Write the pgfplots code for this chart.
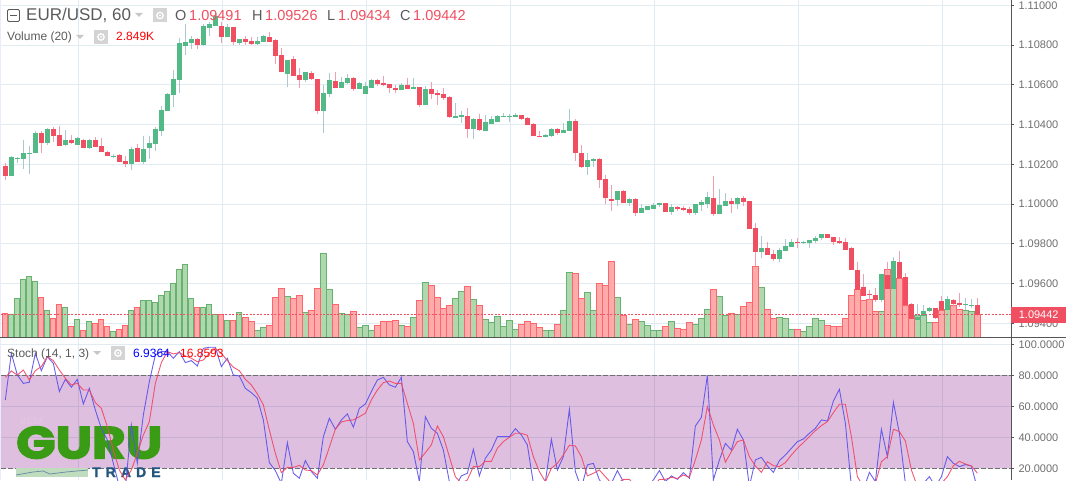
\documentclass[border=0pt]{standalone}
\usepackage{fontspec}
\setmainfont{Liberation Sans}
\newfontfamily\logofont[BoldFeatures={FakeBold=3}]{Poppins}
\newfontfamily\tradefont[LetterSpace=36,BoldFeatures={FakeBold=1.5}]{Liberation Sans}
\usepackage{pgfplots}
\pgfplotsset{compat=1.18}
\usepackage{pgfplotstable}

\definecolor{gridc}{RGB}{225,235,242}
\definecolor{upc}{RGB}{83,185,135}
\definecolor{downc}{RGB}{239,79,96}
\definecolor{upw}{RGB}{170,200,205}
\definecolor{downw}{RGB}{238,160,175}
\definecolor{volupf}{RGB}{166,212,166}
\definecolor{volupd}{RGB}{102,178,110}
\definecolor{voldnf}{RGB}{255,162,162}
\definecolor{voldnd}{RGB}{255,102,108}
\definecolor{txt}{RGB}{90,90,90}
\definecolor{ticktxt}{RGB}{110,110,110}
\definecolor{axl}{RGB}{85,85,85}
\definecolor{kline}{RGB}{90,80,235}
\definecolor{dline}{RGB}{240,70,100}
\definecolor{logog}{RGB}{58,155,20}
\definecolor{logob}{RGB}{36,86,125}

% i open high low close volume(K)
\pgfplotstableread{
i o h l c v
1 1.10141 1.10242 1.10141 1.10237 2.89
2 1.10227 1.10235 1.10205 1.10232 4.83
3 1.10227 1.10322 1.10177 1.10257 7.19
4 1.10252 1.10292 1.10151 1.10257 7.56
5 1.10257 1.10368 1.10257 1.10358 6.94
7 1.10307 1.10383 1.10297 1.10378 3.35
10 1.10297 1.10373 1.10292 1.10322 3.72
12 1.10297 1.10338 1.10297 1.10332 2.23
14 1.10282 1.10327 1.10277 1.10322 1.98
18 1.10239 1.10250 1.10232 1.10244 0.74
21 1.10202 1.10287 1.10171 1.10277 3.35
23 1.10212 1.10343 1.10202 1.10277 4.58
24 1.10282 1.10343 1.10227 1.10307 4.58
25 1.10302 1.10388 1.10267 1.10378 4.34
26 1.10368 1.10493 1.10343 1.10473 5.20
27 1.10468 1.10559 1.10468 1.10554 5.70
28 1.10549 1.10675 1.10488 1.10629 6.69
29 1.10624 1.10834 1.10559 1.10810 8.43
30 1.10795 1.10906 1.10750 1.10815 9.04
31 1.10810 1.10846 1.10780 1.10831 4.83
33 1.10800 1.10906 1.10795 1.10896 3.72
34 1.10886 1.10916 1.10846 1.10906 4.09
35 1.10896 1.10960 1.10896 1.10946 2.85
37 1.10841 1.10906 1.10841 1.10891 2.11
39 1.10810 1.10831 1.10800 1.10831 3.10
42 1.10805 1.10842 1.10800 1.10820 0.87
43 1.10815 1.10851 1.10815 1.10846 1.24
47 1.10654 1.10725 1.10589 1.10725 5.08
50 1.10624 1.10665 1.10614 1.10665 3.10
53 1.10468 1.10599 1.10358 1.10559 10.41
54 1.10554 1.10660 1.10539 1.10624 5.95
56 1.10584 1.10639 1.10584 1.10614 2.97
57 1.10609 1.10654 1.10604 1.10634 2.85
59 1.10579 1.10614 1.10579 1.10609 1.24
60 1.10553 1.10613 1.10553 1.10593 1.49
61 1.10583 1.10628 1.10583 1.10623 0.87
66 1.10573 1.10608 1.10573 1.10598 1.49
68 1.10578 1.10633 1.10578 1.10588 2.48
70 1.10497 1.10593 1.10497 1.10578 6.81
75 1.10432 1.10507 1.10432 1.10442 4.83
76 1.10437 1.10467 1.10407 1.10447 5.70
78 1.10377 1.10432 1.10326 1.10427 4.71
80 1.10366 1.10447 1.10366 1.10412 2.23
81 1.10402 1.10442 1.10402 1.10427 1.86
82 1.10412 1.10447 1.10412 1.10442 2.60
83 1.10437 1.10457 1.10437 1.10442 1.36
84 1.10437 1.10452 1.10412 1.10442 2.11
85 1.10437 1.10457 1.10437 1.10447 0.99
90 1.10336 1.10351 1.10336 1.10346 0.87
91 1.10341 1.10382 1.10336 1.10377 0.87
93 1.10356 1.10407 1.10356 1.10371 3.35
94 1.10366 1.10477 1.10366 1.10417 8.05
97 1.10185 1.10256 1.10145 1.10221 5.58
98 1.10216 1.10231 1.10185 1.10226 3.35
102 1.10019 1.10065 1.09989 1.10065 4.96
104 1.10004 1.10029 1.09989 1.10024 1.61
106 1.09954 1.09999 1.09954 1.09979 1.98
107 1.09969 1.09989 1.09969 1.09989 1.49
108 1.09974 1.10004 1.09974 1.09994 0.87
109 1.09994 1.10004 1.09984 1.10004 0.87
111 1.09959 1.09999 1.09944 1.09984 1.98
115 1.09954 1.09999 1.09944 1.09999 1.61
116 1.09994 1.10019 1.09964 1.10009 2.35
117 1.09999 1.10060 1.09979 1.10034 3.47
119 1.09949 1.10075 1.09949 1.09994 5.08
120 1.09988 1.10058 1.09988 1.10013 2.68
122 1.09998 1.10033 1.09973 1.10028 2.81
126 1.09761 1.09837 1.09731 1.09777 6.15
129 1.09726 1.09777 1.09706 1.09771 2.44
130 1.09766 1.09822 1.09766 1.09787 2.31
131 1.09782 1.09822 1.09782 1.09807 0.95
133 1.09802 1.09812 1.09797 1.09807 0.70
134 1.09802 1.09817 1.09777 1.09817 1.32
135 1.09812 1.09837 1.09802 1.09827 2.31
136 1.09827 1.09847 1.09817 1.09847 2.07
146 1.09515 1.09646 1.09505 1.09646 3.18
148 1.09575 1.09736 1.09575 1.09711 6.65
152 1.09419 1.09495 1.09419 1.09434 2.68
153 1.09439 1.09490 1.09419 1.09460 2.68
154 1.09460 1.09480 1.09455 1.09475 1.82
157 1.09465 1.09535 1.09465 1.09520 3.43
160 1.09490 1.09525 1.09465 1.09495 3.30
161 1.09485 1.09520 1.09475 1.09490 3.18
}\upcandles

\pgfplotstableread{
i o h l c v
0 1.10192 1.10205 1.10121 1.10141 2.97
6 1.10358 1.10368 1.10257 1.10307 4.96
8 1.10378 1.10388 1.10312 1.10343 2.35
9 1.10348 1.10393 1.10292 1.10292 4.09
11 1.10322 1.10348 1.10302 1.10307 1.36
13 1.10322 1.10327 1.10282 1.10282 0.87
15 1.10322 1.10338 1.10287 1.10287 1.73
16 1.10292 1.10332 1.10262 1.10262 2.23
17 1.10262 1.10267 1.10242 1.10242 1.36
19 1.10247 1.10252 1.10212 1.10212 0.99
20 1.10217 1.10242 1.10187 1.10202 1.49
22 1.10282 1.10302 1.10212 1.10212 3.72
32 1.10831 1.10836 1.10780 1.10800 3.72
36 1.10896 1.10916 1.10810 1.10841 2.85
38 1.10891 1.10891 1.10800 1.10815 2.11
40 1.10831 1.10846 1.10800 1.10815 2.48
41 1.10820 1.10841 1.10800 1.10805 1.98
44 1.10841 1.10866 1.10815 1.10815 1.49
45 1.10826 1.10831 1.10705 1.10745 4.96
46 1.10750 1.10785 1.10665 1.10665 6.07
48 1.10730 1.10745 1.10644 1.10644 4.83
49 1.10649 1.10685 1.10584 1.10624 5.20
51 1.10660 1.10670 1.10624 1.10629 3.35
52 1.10629 1.10629 1.10453 1.10468 6.07
55 1.10619 1.10665 1.10584 1.10584 4.09
58 1.10634 1.10639 1.10569 1.10579 3.22
62 1.10623 1.10628 1.10593 1.10603 1.49
63 1.10608 1.10643 1.10593 1.10598 1.98
64 1.10603 1.10603 1.10558 1.10583 1.98
65 1.10583 1.10598 1.10558 1.10573 2.11
67 1.10598 1.10633 1.10578 1.10578 1.36
69 1.10588 1.10588 1.10487 1.10497 4.58
71 1.10578 1.10613 1.10527 1.10553 6.44
72 1.10558 1.10573 1.10497 1.10548 4.96
73 1.10553 1.10583 1.10522 1.10532 3.59
74 1.10538 1.10543 1.10432 1.10437 3.96
77 1.10442 1.10482 1.10331 1.10377 6.32
79 1.10427 1.10452 1.10366 1.10371 3.96
86 1.10447 1.10447 1.10422 1.10427 1.61
87 1.10432 1.10437 1.10397 1.10397 1.98
88 1.10402 1.10407 1.10341 1.10341 1.73
89 1.10341 1.10366 1.10336 1.10336 1.24
92 1.10377 1.10382 1.10346 1.10356 1.61
95 1.10417 1.10427 1.10216 1.10256 7.93
96 1.10256 1.10296 1.10180 1.10185 4.83
99 1.10226 1.10231 1.10080 1.10120 6.69
100 1.10125 1.10145 1.09999 1.10029 6.44
101 1.10024 1.10095 1.09964 1.10014 9.42
103 1.10065 1.10070 1.10004 1.10004 2.73
105 1.10024 1.10029 1.09939 1.09954 2.23
110 1.10004 1.10004 1.09959 1.09959 1.36
112 1.09984 1.09989 1.09964 1.09974 1.12
113 1.09979 1.09989 1.09964 1.09969 0.99
114 1.09974 1.09984 1.09944 1.09954 1.86
118 1.10029 1.10140 1.09939 1.09949 5.95
121 1.10013 1.10028 1.09953 1.09998 2.93
123 1.10028 1.10043 1.09988 1.10008 3.80
124 1.10013 1.10013 1.09877 1.09877 4.30
125 1.09882 1.09907 1.09686 1.09761 8.76
127 1.09777 1.09807 1.09746 1.09746 3.43
128 1.09751 1.09771 1.09716 1.09726 2.31
132 1.09807 1.09827 1.09777 1.09802 0.95
137 1.09847 1.09847 1.09827 1.09827 1.45
138 1.09832 1.09832 1.09792 1.09807 1.32
139 1.09812 1.09832 1.09797 1.09802 1.32
140 1.09807 1.09827 1.09771 1.09771 2.31
141 1.09777 1.09782 1.09666 1.09666 5.16
142 1.09666 1.09711 1.09570 1.09570 5.91
143 1.09585 1.09646 1.09535 1.09535 4.54
144 1.09545 1.09570 1.09515 1.09540 4.67
145 1.09540 1.09580 1.09505 1.09515 3.18
147 1.09641 1.09711 1.09575 1.09575 8.38
149 1.09711 1.09766 1.09626 1.09626 7.27
150 1.09631 1.09651 1.09490 1.09490 3.96
151 1.09495 1.09500 1.09424 1.09424 2.40
155 1.09475 1.09475 1.09424 1.09429 1.82
156 1.09510 1.09535 1.09465 1.09465 3.35
158 1.09515 1.09520 1.09480 1.09495 3.92
159 1.09500 1.09550 1.09480 1.09490 3.43
162 1.09491 1.09526 1.09434 1.09442 2.85
}\downcandles

% i %K %D
\pgfplotstableread{
i k d
0 64.1 78.7
1 94.2 82.8
2 80.2 80.2
3 74.8 83.4
4 75.5 77.0
5 94.2 83.0
6 83.0 85.6
7 92.0 92.0
8 87.7 89.5
9 69.5 83.4
10 77.4 78.1
11 72.3 73.8
12 77.4 74.8
13 61.5 70.5
14 71.6 70.5
15 57.6 62.4
16 45.8 58.7
17 38.3 46.9
18 23.2 31.8
19 8.2 18.9
20 7.1 12.5
21 48.0 18.9
22 23.2 29.7
23 54.4 41.5
24 75.9 50.1
25 93.1 74.8
26 95.3 88.2
27 95.3 95.3
28 91.0 93.8
29 95.3 94.6
30 88.2 92.5
31 89.5 91.0
32 86.0 88.8
33 97.4 89.9
34 98.1 94.2
35 98.1 97.4
36 85.6 94.2
37 91.0 89.5
38 80.2 85.2
39 79.6 83.0
40 71.6 77.4
41 68.8 73.8
42 65.2 68.0
43 51.2 60.9
44 23.7 44.7
45 18.5 29.7
46 10.3 17.2
47 36.6 20.6
48 16.8 20.6
49 13.6 21.9
50 25.0 18.9
51 17.9 18.5
52 13.6 15.7
53 40.4 22.2
54 52.3 33.6
55 45.2 45.2
56 51.2 49.9
57 55.1 50.8
58 46.5 51.2
59 58.7 53.3
60 61.5 55.5
61 69.5 64.1
62 77.0 70.5
63 78.7 75.3
64 73.8 76.3
65 72.3 74.8
66 78.7 74.8
67 37.2 61.9
68 30.8 49.0
69 11.4 25.4
70 53.3 30.1
71 45.8 35.1
72 42.6 47.3
73 31.8 40.4
74 11.4 27.5
75 8.2 14.6
76 15.1 10.3
77 16.8 12.5
78 32.3 21.1
79 15.1 21.1
80 26.5 24.5
81 31.8 24.5
82 40.4 32.9
83 40.4 37.2
84 40.4 40.0
85 45.6 42.6
86 41.5 42.6
87 35.1 41.3
88 10.3 27.5
89 8.2 17.9
90 11.4 11.4
91 38.7 20.0
92 18.9 23.2
93 27.5 28.6
94 58.1 34.9
95 17.9 34.4
96 7.1 27.5
97 22.2 15.1
98 23.2 16.8
99 12.5 18.9
100 8.2 14.6
101 10.3 10.3
102 18.5 10.3
103 11.4 12.9
104 9.3 12.9
105 8.2 8.2
106 7.1 8.2
107 8.2 8.2
108 12.5 8.2
109 18.5 12.9
110 11.4 12.9
111 15.1 14.2
112 12.9 13.4
113 17.2 15.7
114 13.6 14.2
115 47.3 25.4
116 52.9 38.3
117 80.0 59.8
118 12.5 48.0
119 25.4 38.3
120 36.1 23.9
121 31.8 30.8
122 45.2 37.2
123 38.3 38.3
124 8.2 27.5
125 25.4 21.5
126 27.1 17.4
127 21.5 24.3
128 17.4 21.7
129 25.0 21.1
130 28.6 23.7
131 32.9 28.6
132 37.2 32.9
133 38.9 36.6
134 42.6 40.4
135 45.8 44.3
136 51.2 47.5
137 50.5 50.1
138 63.4 55.9
139 71.0 61.3
140 49.0 61.3
141 8.2 40.4
142 6.0 14.6
143 6.0 8.2
144 17.4 8.2
145 11.4 10.3
146 45.2 24.3
147 27.5 27.5
148 62.6 45.2
149 42.6 43.7
150 10.3 37.6
151 6.0 18.9
152 6.0 8.2
153 10.3 8.2
154 14.6 10.3
155 8.2 8.2
156 14.6 10.3
157 27.5 14.6
158 23.2 21.7
159 21.1 24.5
160 22.4 22.8
161 21.5 21.5
162 6.9364 16.8593
}\stochtable

\pgfplotsset{
  panel/.style={
    scale only axis, width=1010pt,
    xmin=-0.722, xmax=167.6,
    axis line style={draw=none},
    xtick={12.17,36.17,60.17,84.17,108.17,132.17,156.17},
    xticklabels={},
    x tick style={draw=none},
    xmajorgrids=true, ymajorgrids=true,
    grid style={line width=1pt,draw=gridc},
    ytick pos=right, yticklabel pos=right,
    tick align=outside, major tick length=3pt,
    y tick style={line width=0.8pt,draw=axl},
    yticklabel style={font=\fontsize{11}{13}\selectfont, text=ticktxt, xshift=1pt},
  },
  mainpos/.style={at={(1pt,142.7pt)}, anchor=south west, height=337.3pt},
  lowpos/.style={at={(1pt,0pt)}, anchor=south west, height=142.7pt},
  wick/.style={draw=none, mark=none, forget plot,
    error bars/.cd, y dir=both, y explicit, error mark=none,
    error bar style={draw=#1, line width=1pt}},
  body/.style={draw=none, mark=none, forget plot,
    error bars/.cd, y dir=both, y explicit, error mark=none,
    error bar style={draw=#1, line width=5pt}},
}

\newcommand{\eyeicon}[2]{% centre x, y in page points
  \fill[black!17] (#1pt-7pt,#2pt-7pt) rectangle (#1pt+7pt,#2pt+7pt);
  \draw[white,line width=1.3pt] (#1pt,#2pt) circle (3.2pt);
  \fill[white] (#1pt,#2pt) circle (1pt);}
\newcommand{\ddtri}[2]{\fill[black!22] (#1pt-4pt,#2pt+2pt) -- (#1pt+4pt,#2pt+2pt) -- (#1pt,#2pt-2pt) -- cycle;}

\begin{document}
\begin{tikzpicture}
\useasboundingbox (0,0) rectangle (1066pt,480pt);

% frame, grid and price scale
\begin{axis}[panel, mainpos,
    ymin=1.093296, ymax=1.110267,
    ytick={1.094,1.096,1.098,1.100,1.102,1.104,1.106,1.108,1.110},
    yticklabels={1.09400,1.09600,1.09800,1.10000,1.10200,1.10400,1.10600,1.10800,1.11000},
]
\end{axis}

% volume
\begin{axis}[mainpos, scale only axis, width=1010pt, hide axis,
    xmin=-0.722, xmax=167.6, ymin=0, ymax=41.79,
    ybar, bar width=5.2pt, bar shift=0pt,
]
\addplot[fill=volupf, draw=volupd, line width=0.9pt, fill opacity=0.9] table[x=i,y=v]{\upcandles};
\addplot[fill=voldnf, draw=voldnd, line width=0.9pt, fill opacity=0.9] table[x=i,y=v]{\downcandles};
\end{axis}

% candles
\begin{axis}[mainpos, scale only axis, width=1010pt, hide axis,
    xmin=-0.722, xmax=167.6, ymin=1.093296, ymax=1.110267,
]
\addplot[wick=upw] table[x=i,y=c,y error plus expr=\thisrow{h}-\thisrow{c},y error minus expr=\thisrow{c}-\thisrow{l}]{\upcandles};
\addplot[wick=downw] table[x=i,y=c,y error plus expr=\thisrow{h}-\thisrow{c},y error minus expr=\thisrow{c}-\thisrow{l}]{\downcandles};
\addplot[body=upc] table[x=i,y=c,y error plus expr=0,y error minus expr=\thisrow{c}-\thisrow{o}]{\upcandles};
\addplot[body=downc] table[x=i,y=c,y error plus expr=\thisrow{o}-\thisrow{c},y error minus expr=0]{\downcandles};
\addplot[downc, line width=1pt, dash pattern=on 2pt off 1.5pt] coordinates {(-0.722,1.09442) (167.6,1.09442)};
\end{axis}

% stochastic: grid, band, scale
\begin{axis}[panel, lowpos,
    ymin=12.45, ymax=104.52,
    ytick={20,40,60,80,100},
    yticklabels={20.0000,40.0000,60.0000,80.0000,100.0000},
]
\addplot[draw=none, fill={rgb,255:red,128;green,0;blue,128}, fill opacity=0.25] coordinates {(-0.722,20) (167.6,20) (167.6,80) (-0.722,80)} --cycle;
\addplot[axl!85, line width=1pt, dash pattern=on 5pt off 2pt] coordinates {(-0.722,80) (167.6,80)};
\addplot[axl!85, line width=1pt, dash pattern=on 5pt off 2pt] coordinates {(-0.722,20) (167.6,20)};
\end{axis}

% logo
\node[anchor=base west, inner sep=0, text={rgb,255:red,224;green,198;blue,224}, font=\fontsize{9}{10}\selectfont\bfseries] at (20pt,56pt) {BETA};
\node[anchor=south west, inner sep=0] at (16pt,21pt) {\resizebox{146pt}{32pt}{\logofont\bfseries\color{logog}GURU}};
\fill[green!45!black!25] (16pt,3pt) rectangle (88pt,12pt);
\draw[logob!70, line width=0.7pt] (16pt,5pt) -- (33pt,8pt) -- (43pt,9pt) -- (50pt,6pt) -- (66pt,8pt) -- (88pt,10pt);
\node[anchor=base west, inner sep=0, text=logob, font=\fontsize{14}{16}\selectfont\tradefont\bfseries] at (92pt,3pt) {TRADE};

% stochastic lines
\begin{axis}[lowpos, scale only axis, width=1010pt, hide axis,
    xmin=-0.722, xmax=167.6, ymin=12.45, ymax=104.52,
]
\addplot[kline, line width=0.9pt, opacity=0.9] table[x=i,y=k]{\stochtable};
\addplot[dline, line width=0.9pt, opacity=0.9] table[x=i,y=d]{\stochtable};
\end{axis}

% panel lines
\draw[black!14!blue!8!white, line width=1.5pt] (0.5pt,0) -- (0.5pt,480pt);
\draw[axl, line width=1pt] (0,142.7pt) -- (1066pt,142.7pt);
\draw[axl, line width=1pt] (1011pt,0) -- (1011pt,480pt);

% price tag
\node[fill=downc, text=white, inner sep=0, minimum width=55pt, minimum height=16.5pt, anchor=west, font=\fontsize{11}{13}\selectfont] at (1011pt,165pt) {1.09442};

% legends
\draw[txt, line width=0.8pt, rounded corners=1.2pt] (7.5pt,458.5pt) rectangle (19.5pt,470.5pt);
\draw[txt, line width=0.8pt] (10pt,464.5pt) -- (17pt,464.5pt);
\node[anchor=base west, inner sep=0, text=txt, font=\fontsize{17}{19}\selectfont] at (26pt,459pt) {EUR/USD, 60};
\ddtri{139}{465}
\eyeicon{160}{464.5}
\node[anchor=base west, inner sep=0, text=txt, font=\fontsize{14.5}{17}\selectfont] at (175pt,459pt) {O};
\node[anchor=base west, inner sep=0, text=downc, font=\fontsize{14.5}{17}\selectfont] at (189pt,459pt) {1.09491};
\node[anchor=base west, inner sep=0, text=txt, font=\fontsize{14.5}{17}\selectfont] at (252pt,459pt) {H};
\node[anchor=base west, inner sep=0, text=downc, font=\fontsize{14.5}{17}\selectfont] at (265pt,459pt) {1.09526};
\node[anchor=base west, inner sep=0, text=txt, font=\fontsize{14.5}{17}\selectfont] at (327pt,459pt) {L};
\node[anchor=base west, inner sep=0, text=downc, font=\fontsize{14.5}{17}\selectfont] at (338pt,459pt) {1.09434};
\node[anchor=base west, inner sep=0, text=txt, font=\fontsize{14.5}{17}\selectfont] at (400pt,459pt) {C};
\node[anchor=base west, inner sep=0, text=downc, font=\fontsize{14.5}{17}\selectfont] at (413pt,459pt) {1.09442};

\node[anchor=base west, inner sep=0, text=txt, font=\fontsize{12}{14}\selectfont] at (7pt,439.3pt) {Volume (20)};
\ddtri{80}{443}
\eyeicon{101}{443}
\node[anchor=base west, inner sep=0, text=red, font=\fontsize{12}{14}\selectfont] at (116pt,439.3pt) {2.849K};

\node[anchor=base west, inner sep=0, text=txt, font=\fontsize{12}{14}\selectfont] at (7pt,122.7pt) {Stoch (14, 1, 3)};
\ddtri{97}{127}
\eyeicon{118}{127}
\node[anchor=base west, inner sep=0, text=blue, font=\fontsize{12}{14}\selectfont] at (133pt,122.7pt) {6.9364};
\node[anchor=base west, inner sep=0, text=red, font=\fontsize{12}{14}\selectfont] at (180pt,122.7pt) {16.8593};
\end{tikzpicture}
\end{document}
